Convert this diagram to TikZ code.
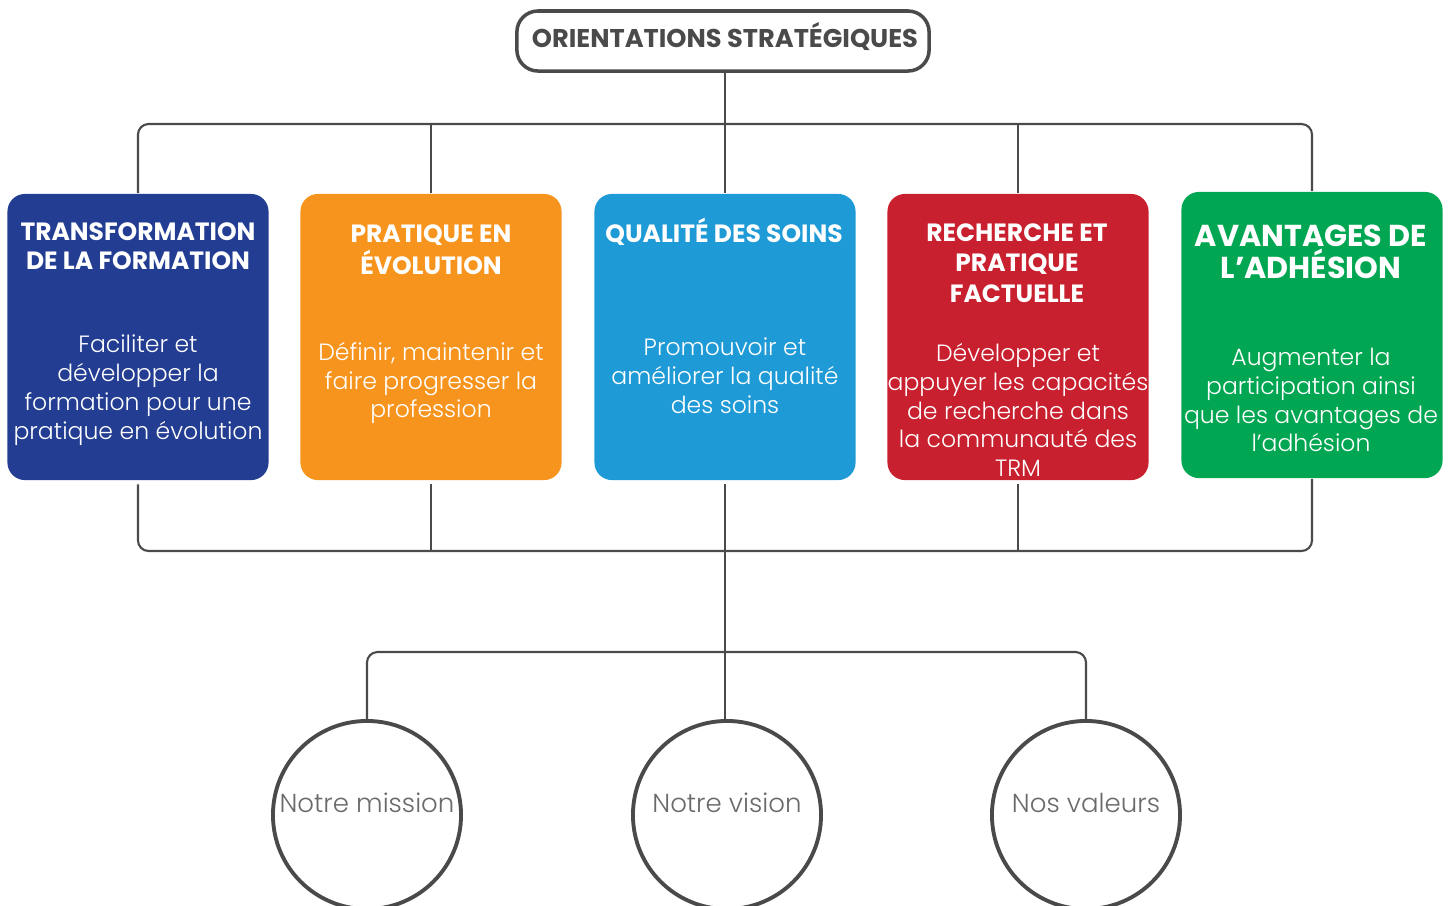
\documentclass[tikz,border=0pt]{standalone}
\usepackage{fontspec}
\setmainfont{Poppins}
\newfontfamily\lightfont{Poppins Light}
\usetikzlibrary{positioning}
\definecolor{cblue}{HTML}{233D92}
\definecolor{corange}{HTML}{F7941D}
\definecolor{csky}{HTML}{1E9AD6}
\definecolor{cred}{HTML}{C8202E}
\definecolor{cgreen}{HTML}{00A651}
\definecolor{cline}{HTML}{4A4A4A}
\definecolor{ctext}{HTML}{6A6A6A}
\tikzset{
    link/.style = {draw = cline, line width = 0.6pt},
    headbox/.style = {draw = cline, line width = 1pt, rounded corners = 6pt, minimum width = 4.12cm, minimum height = 0.6cm},
    card/.style = {rounded corners = 5pt, minimum width = 2.61cm, minimum height = 2.86cm},
    cardtitle/.style = {text = white, align = center, font = \bfseries\fontsize{7.1}{8.2}\selectfont},
    cardbody/.style = {text = white, align = center, font = \lightfont\fontsize{6.7}{8.2}\selectfont},
    ring/.style = {circle, draw = cline, line width = 1.1pt, fill = white, minimum size = 1.88cm},
    ringtext/.style = {text = ctext, font = \lightfont\fontsize{7.4}{9}\selectfont}
}
\begin{document}
\begin{tikzpicture}[x = 0.01cm, y = -0.01cm]
        \clip (0,0) rectangle (1450,905);
        \node[headbox] (head) at (723,41) {};
        \node[text = cline, font = \bfseries\fontsize{7.3}{8.2}\selectfont] (headt) at (725,37) {ORIENTATIONS STRATÉGIQUES};
        \node[card, fill = cblue] (b1) at (138,337) {};
        \node[card, fill = corange] (b2) at (431,337) {};
        \node[card, fill = csky] (b3) at (725,337) {};
        \node[card, fill = cred] (b4) at (1018,337) {};
        \node[card, fill = cgreen] (b5) at (1312,335) {};
        \node[cardtitle] (b1t) at (138,246) {TRANSFORMATION\\DE LA FORMATION};
        \node[cardtitle, font = \bfseries\fontsize{7.1}{9.1}\selectfont] (b2t) at (431,250) {PRATIQUE EN\\ÉVOLUTION};
        \node[cardtitle] (b3t) at (724,232) {QUALITÉ DES SOINS};
        \node[cardtitle, font = \bfseries\fontsize{7.1}{8.6}\selectfont] (b4t) at (1017,263) {RECHERCHE ET\\PRATIQUE\\FACTUELLE};
        \node[cardtitle, font = \bfseries\fontsize{8.6}{9.1}\selectfont] (b5t) at (1311,252) {AVANTAGES DE\\L’ADHÉSION};
        \node[cardbody] (b1b) at (138,390) {Faciliter et\\développer la\\formation pour une\\pratique en évolution};
        \node[cardbody] (b2b) at (431,383) {Définir, maintenir et\\faire progresser la\\profession};
        \node[cardbody] (b3b) at (725,376) {Promouvoir et\\améliorer la qualité\\des soins};
        \node[cardbody] (b4b) at (1018,410) {Développer et\\appuyer les capacités\\de recherche dans\\la communauté des\\TRM};
        \node[cardbody] (b5b) at (1311,400) {Augmenter la\\participation ainsi\\que les avantages de\\l’adhésion};
        \node[ring] (c1) at (367,815) {};
        \node[ring] (c2) at (727,815) {};
        \node[ring] (c3) at (1086,815) {};
        \node[ringtext] (c1t) at (367,803) {Notre mission};
        \node[ringtext] (c2t) at (727,803) {Notre vision};
        \node[ringtext] (c3t) at (1086,803) {Nos valeurs};
        \coordinate (topbar) at (725,124);
        \coordinate (lowbar) at (725,551);
        \coordinate (midbar) at (725,652);
        \draw[link] (head.south -| b3) -- (b3.north);
        \draw[link, rounded corners = 3pt] (b1.north) |- (topbar) -| (b5.north);
        \draw[link] (b2.north) -- (b2.north |- topbar);
        \draw[link] (b4.north) -- (b4.north |- topbar);
        \begin{scope}[shorten < = 1pt]
            \draw[link, rounded corners = 3pt] (b1.south) |- (lowbar) -| (b5.south);
            \draw[link] (b2.south) -- (b2.south |- lowbar);
            \draw[link] (b4.south) -- (b4.south |- lowbar);
            \draw[link] (b3.south) -- (b3.south |- c2.north);
        \end{scope}
        \draw[link, rounded corners = 3pt] (c1.north) |- (midbar) -| (c3.north);
    \end{tikzpicture}
\end{document}
